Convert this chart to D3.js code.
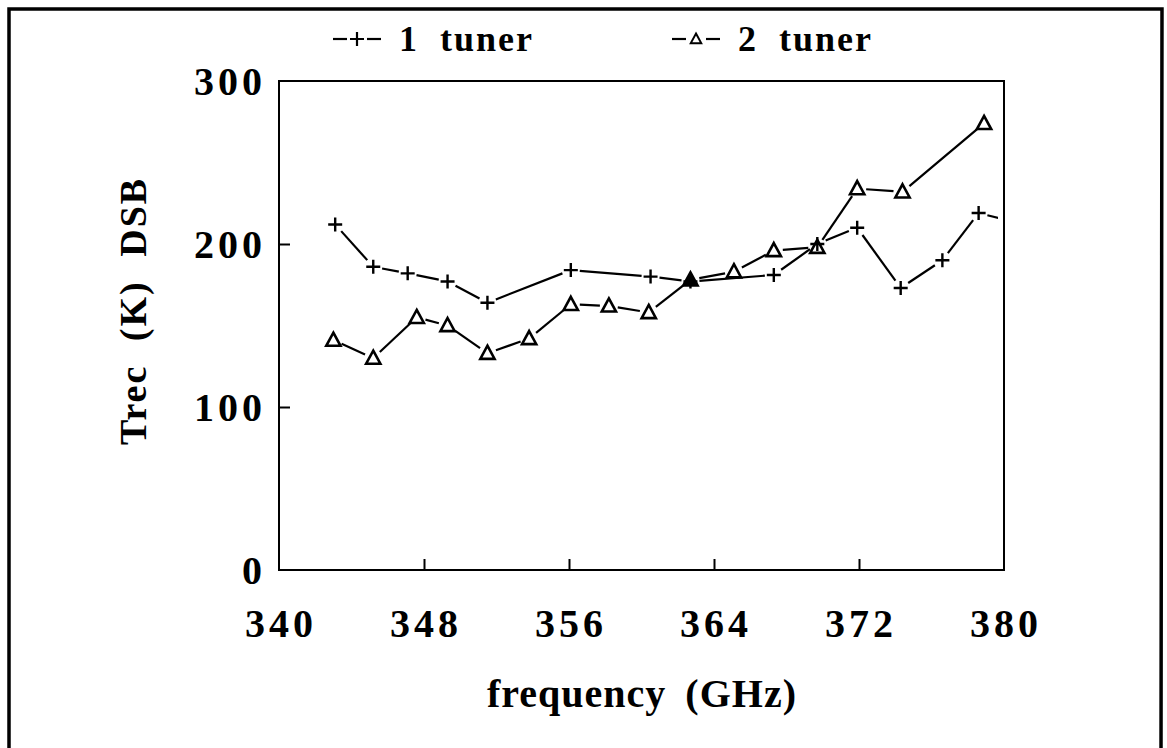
<!DOCTYPE html>
<html>
<head>
<meta charset="utf-8">
<script src="https://cdn.jsdelivr.net/npm/d3@7"></script>
<style>
  body { margin: 0; background: #fff; }
  text { font-family: "Liberation Serif", "DejaVu Serif", serif; font-weight: bold; fill: #000; }
</style>
</head>
<body>
<svg id="chart" width="1167" height="748"></svg>
<script>
// 1 tuner (plus markers)
const freqOne = [343.1, 345.2, 347.1, 349.3, 351.5, 356.1, 360.5, 362.7, 367.3, 369.7, 371.9, 374.3, 376.6, 378.6, 381.5];
const trecOne = [212, 186, 182, 177, 164, 184, 180, 177, 181, 200, 210, 173, 190, 219, 211];
// 2 tuner (triangle markers)
const freqTwo = [343.0, 345.2, 347.6, 349.3, 351.5, 353.8, 356.1, 358.2, 360.4, 362.7, 365.1, 367.3, 369.7, 371.9, 374.4, 378.9];
const trecTwo = [141, 130, 155, 150, 133, 142, 163, 162, 158, 178, 183, 196, 198, 234, 232, 274];

const xTicks = [340, 348, 356, 364, 372, 380];
const yTicks = [0, 100, 200, 300];
const seriesNames = ["1 tuner", "2 tuner"];

const svg = d3.select("#chart");

// outer frame of the figure
svg.append("path")
  .attr("d", "M9,760 L9,9 L1162,9 L1161,760")
  .attr("fill", "none")
  .attr("stroke", "#000")
  .attr("stroke-width", 3.5);

const plotL = 279, plotR = 1004, plotT = 81, plotB = 570;

const x = d3.scaleLinear().domain([340, 380]).range([plotL, plotR]);
const y = d3.scaleLinear().domain([0, 300]).range([plotB, plotT]);

svg.append("clipPath").attr("id", "plotclip")
  .append("rect").attr("x", plotL).attr("y", plotT).attr("width", plotR - plotL - 6).attr("height", plotB - plotT);

// plot box
svg.append("rect")
  .attr("x", plotL).attr("y", plotT)
  .attr("width", plotR - plotL).attr("height", plotB - plotT)
  .attr("fill", "none").attr("stroke", "#000").attr("stroke-width", 2);

// inner ticks
const xAxis = d3.axisTop(x).tickValues(xTicks.slice(1, -1)).tickSize(11).tickFormat("");
svg.append("g").attr("transform", `translate(0,${plotB})`).call(xAxis)
  .call(g => g.select(".domain").remove())
  .selectAll("line").attr("stroke-width", 2);

const yAxis = d3.axisRight(y).tickValues(yTicks.slice(1, -1)).tickSize(11).tickFormat("");
svg.append("g").attr("transform", `translate(${plotL},0)`).call(yAxis)
  .call(g => g.select(".domain").remove())
  .selectAll("line").attr("stroke-width", 2);

// tick labels
svg.append("g").selectAll("text").data(xTicks).join("text")
  .attr("x", d => x(d) + 2)
  .attr("y", 637)
  .attr("text-anchor", "middle")
  .style("font-size", "40px")
  .style("letter-spacing", "4px")
  .text(d => d);

svg.append("g").selectAll("text").data(yTicks).join("text")
  .attr("x", 266)
  .attr("y", d => y(d) + 14)
  .attr("text-anchor", "end")
  .style("font-size", "40px")
  .style("letter-spacing", "4px")
  .text(d => d);

// axis titles
svg.append("text")
  .attr("x", 642).attr("y", 707)
  .attr("text-anchor", "middle")
  .style("font-size", "40px")
  .style("letter-spacing", "1px")
  .style("word-spacing", "8px")
  .text("frequency (GHz)");

svg.append("text")
  .attr("transform", "translate(146,311) rotate(-90)")
  .attr("text-anchor", "middle")
  .style("font-size", "38px")
  .style("letter-spacing", "2px")
  .style("word-spacing", "12px")
  .text("Trec (K) DSB");

// line segments with small gaps at each marker
function segments(fs, vs, gap) {
  const pts = fs.map((f, i) => [x(f), y(vs[i])]);
  const out = [];
  for (let i = 0; i < pts.length - 1; i++) {
    const [x1, y1] = pts[i], [x2, y2] = pts[i + 1];
    const len = Math.hypot(x2 - x1, y2 - y1);
    const ux = (x2 - x1) / len, uy = (y2 - y1) / len;
    out.push([x1 + ux * gap, y1 + uy * gap, x2 - ux * gap, y2 - uy * gap]);
  }
  return out;
}

const plot = svg.append("g").attr("clip-path", "url(#plotclip)");

function drawLines(fs, vs) {
  plot.append("g").selectAll("line").data(segments(fs, vs, 9)).join("line")
    .attr("x1", d => d[0]).attr("y1", d => d[1])
    .attr("x2", d => d[2]).attr("y2", d => d[3])
    .attr("stroke", "#000").attr("stroke-width", 2.2);
}
drawLines(freqOne, trecOne);
drawLines(freqTwo, trecTwo);

function plusPath(s) {
  return `M${-s},0H${s}M0,${-s}V${s}`;
}
function triPath(s) {
  return `M0,${-s}L${s * 0.95},${s * 0.75}L${-s * 0.95},${s * 0.75}Z`;
}

plot.append("g").selectAll("path").data(freqTwo.map((f, i) => [f, trecTwo[i]])).join("path")
  .attr("transform", d => `translate(${x(d[0])},${y(d[1])})`)
  .attr("d", triPath(7.5))
  .attr("fill", (d, i) => i === 9 ? "#000" : "none")
  .attr("stroke", "#000").attr("stroke-width", 2.6);

plot.append("g").selectAll("path").data(freqOne.map((f, i) => [f, trecOne[i]])).join("path")
  .attr("transform", d => `translate(${x(d[0])},${y(d[1])})`)
  .attr("d", plusPath(7))
  .attr("fill", "none")
  .attr("stroke", "#000").attr("stroke-width", 2.4);

// legend
const legend = svg.append("g");
const legendX = [333, 672];
seriesNames.forEach((name, i) => {
  const g = legend.append("g").attr("transform", `translate(${legendX[i]},39)`);
  g.append("line").attr("x1", 0).attr("x2", 14).attr("stroke", "#000").attr("stroke-width", 2.2);
  g.append("line").attr("x1", 34).attr("x2", 48).attr("stroke", "#000").attr("stroke-width", 2.2);
  g.append("path")
    .attr("transform", "translate(24,0)")
    .attr("d", i === 0 ? plusPath(7) : triPath(5.5))
    .attr("fill", "none").attr("stroke", "#000").attr("stroke-width", i === 0 ? 2.2 : 2);
  g.append("text")
    .attr("x", 66).attr("y", 12)
    .style("font-size", "36px")
    .style("letter-spacing", "2px")
    .style("word-spacing", "10px")
    .text(name);
});
</script>
</body>
</html>
